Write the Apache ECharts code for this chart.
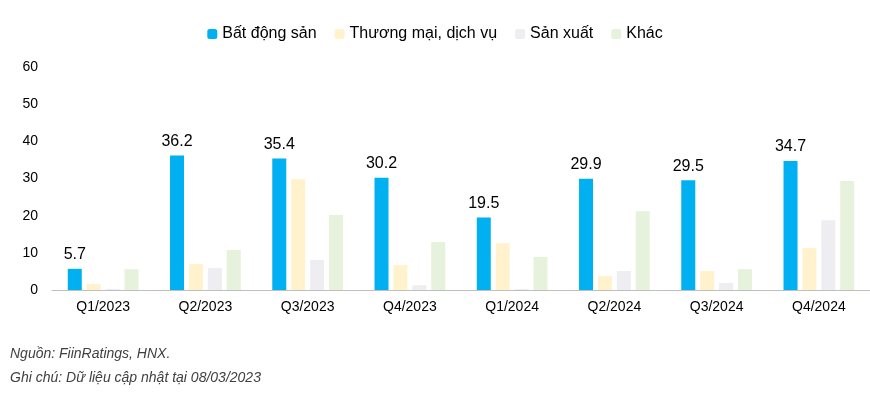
<!DOCTYPE html>
<html><head><meta charset="utf-8">
<script src="https://cdn.jsdelivr.net/npm/echarts@6/dist/echarts.min.js"></script>
<style>body{margin:0;background:#fff}#c{width:870px;height:409px}</style>
</head><body><div id="c"></div>
<script>
const quarters = ['Q1/2023','Q2/2023','Q3/2023','Q4/2023','Q1/2024','Q2/2024','Q3/2024','Q4/2024'];
const batDongSan = [5.7, 36.2, 35.4, 30.2, 19.5, 29.9, 29.5, 34.7];
const thuongMai = [1.6, 7.0, 29.8, 6.7, 12.6, 3.8, 5.1, 11.3];
const sanXuat = [0.3, 5.9, 8.1, 1.3, 0.3, 5.1, 1.9, 18.8];
const khac = [5.6, 10.8, 20.2, 12.9, 8.9, 21.2, 5.6, 29.3];

const chart = echarts.init(document.getElementById('c'));
const font = 'Liberation Sans, Arial, sans-serif';
function bar(name, data, color, label) {
    return {
        name, type: 'bar', data, barWidth: 14, barGap: '35%',
        itemStyle: { color },
        label: label ? { show: true, position: 'top', color: '#000', fontSize: 16, fontFamily: font, distance: 6, formatter: (p) => p.value.toFixed(1) } : { show: false }
    };
}
chart.setOption({
    animation: false,
    textStyle: { fontFamily: font },
    legend: {
        top: 21, left: 'center', itemWidth: 10, itemHeight: 10, itemGap: 18,
        textStyle: { fontSize: 16, color: '#000', fontFamily: font },
        data: ['Bất động sản', 'Thương mại, dịch vụ', 'Sản xuất', 'Khác']
    },
    grid: { left: 52, right: 0, top: 67, bottom: 119 },
    xAxis: {
        type: 'category', data: quarters,
        axisLine: { lineStyle: { color: '#bfbfbf' } },
        axisTick: { show: false },
        axisLabel: { color: '#000', fontSize: 14, margin: 10 }
    },
    yAxis: {
        type: 'value', min: 0, max: 60, interval: 10,
        splitLine: { show: false },
        axisLabel: { color: '#000', fontSize: 14, margin: 14 }
    },
    graphic: [
        { type: 'text', left: 10, top: 347, style: { text: 'Nguồn: FiinRatings, HNX.', font: 'italic 14px ' + font, fill: '#404040' } },
        { type: 'text', left: 10, top: 371, style: { text: 'Ghi chú: Dữ liệu cập nhật tại 08/03/2023', font: 'italic 14px ' + font, fill: '#404040' } }
    ],
    series: [
        bar('Bất động sản', batDongSan, '#00b0f0', true),
        bar('Thương mại, dịch vụ', thuongMai, '#fff2cc'),
        bar('Sản xuất', sanXuat, '#eeeef2'),
        bar('Khác', khac, '#e6f2dc')
    ]
});
</script></body></html>
